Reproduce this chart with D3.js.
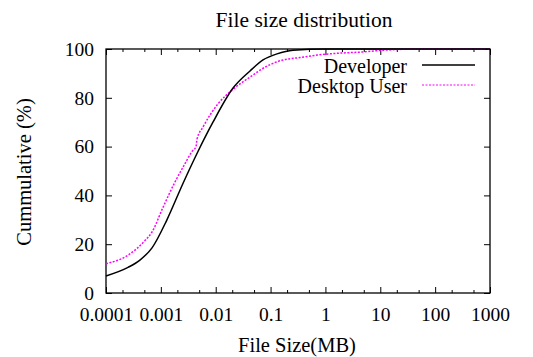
<!DOCTYPE html>
<html><head><meta charset="utf-8">
<script src="https://cdn.jsdelivr.net/npm/d3@7"></script>
<style>body{margin:0;background:#fff}svg{display:block}</style>
</head><body>
<svg id="c" width="533" height="357"></svg>
<script>
const title = "File size distribution";
const xLabel = "File Size(MB)";
const yLabel = "Cummulative (%)";
const xTicks = [0.0001, 0.001, 0.01, 0.1, 1, 10, 100, 1000];
const xTickLabels = ["0.0001", "0.001", "0.01", "0.1", "1", "10", "100", "1000"];
const yTicks = [0, 20, 40, 60, 80, 100];
const seriesNames = ["Developer", "Desktop User"];
const devSize = [0.0001, 0.000252, 0.000415, 0.00069, 0.00129, 0.00254, 0.00475, 0.00891, 0.0207, 0.0422, 0.0728, 0.131, 0.257, 1, 1000];
const devPct  = [7, 10.5, 13.5, 18.5, 30, 45, 58, 70, 84, 91, 95.5, 98, 99.5, 100, 100];
const deskSize = [0.0001, 0.000252, 0.000514, 0.00069, 0.00109, 0.00181, 0.00275, 0.0037, 0.00438, 0.00456, 0.00586, 0.0110, 0.0207, 0.0422, 0.0861, 0.168, 0.344, 0.702, 1.84, 4.84, 9.9, 53, 1000];
const deskPct  = [12, 15.5, 21.5, 25, 35, 45.5, 53, 58, 60, 63, 68, 77.5, 83.5, 88.5, 93, 95.5, 96.5, 97.5, 98.3, 98.8, 99.4, 100, 100];

const FONT = '"Liberation Serif", "Times New Roman", Times, "DejaVu Serif", serif';
const svg = d3.select("#c").attr("font-family", FONT);
const L = 106, R = 490, T = 49, B = 293;
const x = d3.scaleLog().domain([0.0001, 1000]).range([L, R]);
const y = d3.scaleLinear().domain([0, 100]).range([B, T]);
const fs = 19.5;

const minors = [];
for (let e = -4; e < 3; e++) { [2, 5].forEach(m => minors.push(m * Math.pow(10, e))); }

function style(sel) {
  sel.attr("font-family", FONT).attr("font-size", fs);
  sel.select(".domain").remove();
  sel.selectAll(".tick line").attr("stroke", "#000");
  sel.selectAll("text").attr("fill", "#000");
}
const g = svg.append("g");
g.append("g").attr("transform", `translate(0,${B})`)
  .call(d3.axisBottom(x).tickValues(xTicks).tickSize(-6).tickFormat((d, i) => xTickLabels[i]).tickPadding(14)).call(style);
g.append("g").attr("transform", `translate(0,${B})`)
  .call(d3.axisBottom(x).tickValues(minors).tickSize(-3).tickFormat("")).call(style);
g.append("g").attr("transform", `translate(0,${T})`)
  .call(d3.axisTop(x).tickValues(xTicks).tickSize(-6).tickFormat("")).call(style);
g.append("g").attr("transform", `translate(0,${T})`)
  .call(d3.axisTop(x).tickValues(minors).tickSize(-3).tickFormat("")).call(style);
g.append("g").attr("transform", `translate(${L},0)`)
  .call(d3.axisLeft(y).tickValues(yTicks).tickSize(-6).tickPadding(12)).call(style);
g.append("g").attr("transform", `translate(${R},0)`)
  .call(d3.axisRight(y).tickValues(yTicks).tickSize(-6).tickFormat("")).call(style);

svg.append("rect").attr("x", L).attr("y", T).attr("width", R - L).attr("height", B - T)
  .attr("fill", "none").attr("stroke", "#000").attr("stroke-width", 1.3);

const line = d3.line().x(d => x(d[0])).y(d => y(d[1])).curve(d3.curveMonotoneX);
const dev = devSize.map((s, i) => [s, devPct[i]]);
const desk = deskSize.map((s, i) => [s, deskPct[i]]);
svg.append("path").datum(desk).attr("d", line).attr("fill", "none").attr("stroke", "#ff00ff").attr("stroke-width", 1.5).attr("stroke-dasharray", "2,1.5");
svg.append("path").datum(dev).attr("d", line).attr("fill", "none").attr("stroke", "#000").attr("stroke-width", 1.5);

const leg = [{name: seriesNames[0], c: "#000", dash: null, y: 66}, {name: seriesNames[1], c: "#ff00ff", dash: "2,1.5", y: 86}];
leg.forEach(d => {
  svg.append("text").attr("x", 407).attr("y", d.y).attr("dy", "0.35em").attr("text-anchor", "end").attr("font-size", 20).text(d.name);
  svg.append("line").attr("x1", 422).attr("x2", 475).attr("y1", d.y - 1).attr("y2", d.y - 1).attr("stroke", d.c).attr("stroke-width", d.dash ? 1 : 1.3).attr("stroke-dasharray", d.dash);
});

svg.append("text").attr("x", 304).attr("y", 27).attr("text-anchor", "middle").attr("font-size", 21.5).text(title);
svg.append("text").attr("x", 297).attr("y", 352).attr("text-anchor", "middle").attr("font-size", 20.5).text(xLabel);
svg.append("text").attr("transform", "translate(24,172) rotate(-90)").attr("text-anchor", "middle").attr("dy", "0.35em").attr("font-size", 20.5).text(yLabel);
</script>
</body></html>
